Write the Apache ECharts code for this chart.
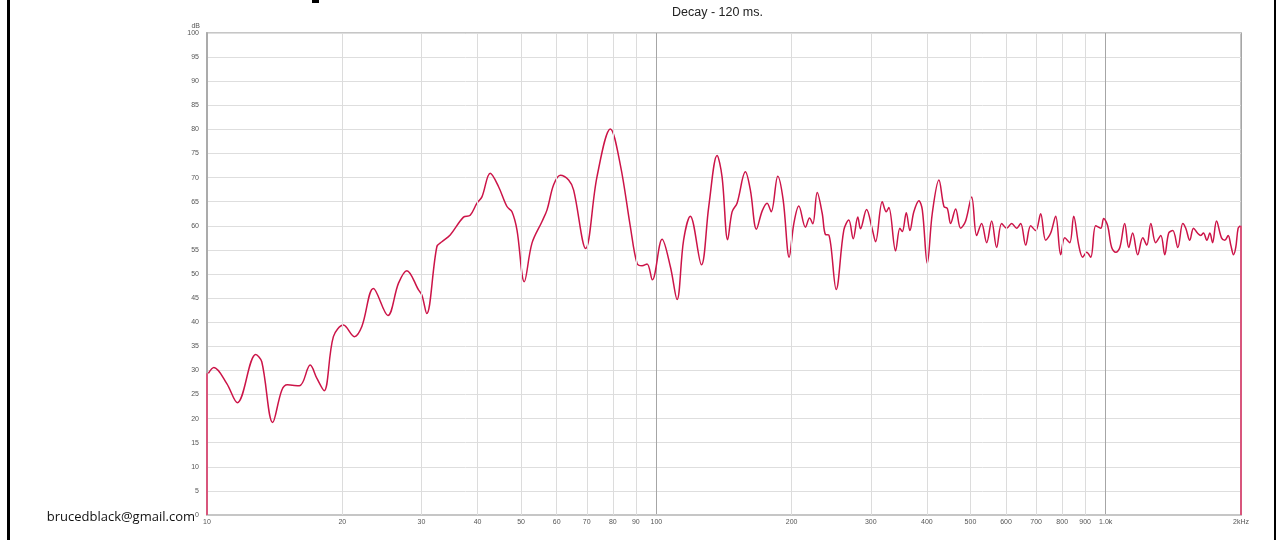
<!DOCTYPE html>
<html>
<head>
<meta charset="utf-8">
<title>Decay - 120 ms.</title>
<script src="https://cdn.jsdelivr.net/npm/echarts@6/dist/echarts.min.js"></script>
<style>
  html, body { margin: 0; padding: 0; background: #ffffff; }
  #chart { width: 1277px; height: 540px; }
</style>
</head>
<body>
<div id="chart"></div>
<script>
// Frequency response of the decay slice (Hz, dB)
const FREQ_HZ = [
  10.07, 10.36, 11.06, 11.68, 12.84, 13.24, 14.0, 14.67, 15.1, 16.06,
  16.97, 17.55, 18.22, 19.11, 20.12, 21.28, 22.11, 23.46, 25.27, 26.68,
  27.85, 29.56, 30.08, 30.83, 32.48, 33.32, 34.77, 37.22, 38.52, 39.88,
  40.91, 42.69, 44.55, 46.51, 47.72, 48.96, 50.82, 52.87, 55.66, 57.11,
  59.07, 61.13, 63.79, 65.45, 69.6, 73.78, 79.01, 83.16, 87.53, 90.57,
  92.92, 95.35, 97.97, 102.97, 107.45, 111.2, 115.0, 119.0, 126.0, 130.8,
  136.5, 140.0, 144.1, 147.4, 151.2, 157.8, 161.9, 167.0, 172.0, 176.4,
  180.1, 186.3, 191.5, 197.5, 202.3, 207.5, 214.7, 219.2, 222.9, 228.0,
  233.9, 237.9, 242.0, 251.3, 261.3, 268.1, 274.2, 280.7, 284.6, 293.6,
  302.3, 307.5, 318.2, 324.8, 329.1, 340.7, 348.3, 352.6, 359.9, 366.6,
  374.1, 383.9, 390.7, 400.8, 411.2, 425.4, 436.5, 444.1, 451.7, 463.4,
  475.5, 487.8, 503.1, 516.1, 529.4, 543.3, 557.4, 571.8, 586.7, 601.9,
  617.5, 633.6, 646.7, 663.5, 680.8, 698.4, 716.5, 735.2, 754.3, 773.8,
  794.0, 810.5, 831.4, 848.6, 870.7, 888.7, 907.1, 926.0, 950.0, 974.7,
  989.7, 1010, 1031, 1053, 1075, 1102, 1125, 1148, 1178, 1209,
  1234, 1260, 1292, 1326, 1353, 1381, 1410, 1447, 1484, 1507,
  1538, 1568, 1600, 1628, 1650, 1679, 1705, 1729, 1764, 1810,
  1841, 1873, 1898, 1925, 1947, 1971, 1993
];
const LEVEL_DB = [
  29.4, 30.6, 27.3, 23.3, 33.3, 31.8, 19.2, 25.9, 27.0, 26.8,
  31.1, 28.4, 25.8, 37.0, 39.4, 37.0, 39.1, 47.0, 41.4, 48.1,
  50.7, 46.7, 45.6, 41.8, 55.7, 56.7, 58.1, 61.8, 62.2, 64.7,
  66.0, 70.9, 68.1, 64.0, 62.9, 59.1, 48.4, 56.4, 60.9, 63.3,
  68.5, 70.5, 69.5, 67.4, 55.3, 70.2, 80.1, 72.6, 59.8, 52.2,
  51.7, 52.1, 48.8, 57.2, 51.5, 44.7, 57.1, 62.0, 51.9, 64.0,
  74.6, 70.2, 57.1, 62.9, 64.7, 71.2, 67.4, 59.3, 63.1, 64.7,
  62.9, 70.3, 65.4, 53.5, 60.5, 64.1, 59.7, 61.6, 60.4, 66.9,
  62.6, 58.2, 58.1, 46.8, 59.1, 61.2, 57.3, 61.8, 59.4, 63.4,
  59.3, 56.7, 65.0, 62.9, 63.8, 54.8, 59.5, 58.8, 62.7, 59.0,
  62.9, 65.2, 63.3, 52.2, 62.6, 69.5, 64.0, 63.6, 60.5, 63.5,
  59.5, 61.0, 66.0, 58.0, 60.5, 56.5, 61.0, 55.5, 60.5, 59.5,
  60.5, 59.5, 60.5, 56.0, 60.0, 59.0, 62.5, 57.0, 58.5, 62.0,
  54.0, 57.5, 56.5, 62.0, 56.0, 53.5, 54.5, 53.5, 60.0, 59.5,
  61.5, 60.0, 55.5, 54.5, 55.5, 60.5, 55.5, 58.5, 54.0, 57.5,
  56.0, 60.5, 56.5, 58.0, 54.0, 58.5, 59.0, 55.5, 60.5, 59.5,
  57.0, 59.5, 58.5, 58.0, 58.5, 57.0, 58.5, 56.5, 61.0, 57.5,
  57.0, 58.0, 56.0, 54.0, 55.5, 59.5, 60.0
];

// Axis range and tick labels
const FREQ_MIN = 10;
const FREQ_MAX = 2000;
const X_TICKS = [10, 20, 30, 40, 50, 60, 70, 80, 90, 100,
                 200, 300, 400, 500, 600, 700, 800, 900, 1000, 2000];
const X_TICK_TEXT = ['10', '20', '30', '40', '50', '60', '70', '80', '90', '100',
                     '200', '300', '400', '500', '600', '700', '800', '900', '1.0k', '2kHz'];
const MINOR_GRID_HZ = [20, 30, 40, 50, 60, 70, 80, 90, 200, 300, 400, 500, 600, 700, 800, 900];
const DB_MIN = 0;
const DB_MAX = 100;
const DB_STEP = 5;

const TITLE = 'Decay - 120 ms.';
const CREDIT = 'brucedblack@gmail.com';

const curve = FREQ_HZ.map((f, i) => [f, LEVEL_DB[i]]);
// closing drops to the floor at both ends of the band
const leftEdge = [[FREQ_MIN, DB_MIN], [FREQ_MIN, LEVEL_DB[0]]];
const rightEdge = [[FREQ_MAX, LEVEL_DB[LEVEL_DB.length - 1]], [FREQ_MAX, DB_MIN]];

const chart = echarts.init(document.getElementById('chart'), null, { renderer: 'canvas' });

const tickText = {};
X_TICKS.forEach((v, i) => { tickText[v] = X_TICK_TEXT[i]; });

chart.setOption({
  animation: false,
  backgroundColor: '#ffffff',
  grid: {
    left: 207, right: 36, top: 33, bottom: 25,
    show: true, borderColor: '#c6c6c6', borderWidth: 2, backgroundColor: '#ffffff'
  },
  xAxis: {
    type: 'log', logBase: 10, min: FREQ_MIN, max: FREQ_MAX,
    axisLine: { show: true, lineStyle: { color: '#c6c6c6', width: 2 } },
    axisTick: { show: false },
    axisLabel: {
      customValues: X_TICKS,
      showMinLabel: true, showMaxLabel: true,
      margin: 4, fontSize: 7, color: '#555555', fontFamily: 'Liberation Sans, Arial, sans-serif',
      formatter: (v) => {
        const key = Math.round(v);
        return tickText[key] !== undefined ? tickText[key] : '';
      }
    },
    splitLine: { show: true, lineStyle: { color: '#a6a6a6', width: 1 } },
    minorTick: { show: false },
    minorSplitLine: { show: false }
  },
  yAxis: {
    type: 'value', min: DB_MIN, max: DB_MAX, interval: DB_STEP,
    name: 'dB', nameLocation: 'end', nameGap: 1,
    nameTextStyle: { fontSize: 7, color: '#555555', align: 'right', padding: [0, 7, 0, 0],
                     fontFamily: 'Liberation Sans, Arial, sans-serif' },
    axisLine: { show: true, lineStyle: { color: '#ababab', width: 2 } },
    axisTick: { show: false },
    axisLabel: { fontSize: 7, color: '#555555', margin: 8,
                 fontFamily: 'Liberation Sans, Arial, sans-serif' },
    splitLine: { show: true, lineStyle: { color: '#dedede', width: 1 } }
  },
  series: [
    {
      // light vertical grid at 2..9 of each decade
      type: 'line', data: [], z: 1, silent: true,
      markLine: {
        silent: true, symbol: 'none', animation: false,
        label: { show: false },
        lineStyle: { color: '#dcdcdc', width: 1, type: 'solid' },
        emphasis: { disabled: true },
        data: MINOR_GRID_HZ.map((v) => ({ xAxis: v }))
      }
    },
    {
      type: 'line', data: leftEdge, z: 3, silent: true,
      showSymbol: false, symbol: 'none',
      lineStyle: { color: '#d8567c', width: 2 }
    },
    {
      type: 'line', data: rightEdge, z: 3, silent: true,
      showSymbol: false, symbol: 'none',
      lineStyle: { color: '#d8567c', width: 2 }
    },
    {
      type: 'line', data: curve, z: 4,
      showSymbol: false, symbol: 'none', smooth: 0.35,
      lineStyle: { color: '#cc1448', width: 1.5 }
    }
  ],
  graphic: [
    { type: 'text', left: 672, top: 6,
      style: { text: TITLE, font: '12.5px "Liberation Sans", Arial, sans-serif', fill: '#222222' } },
    { type: 'text', right: 1277 - 195, top: 511,
      style: { text: CREDIT, font: '13px "Open Sans", sans-serif', fill: '#111111' } },
    { type: 'rect', shape: { x: 7, y: 0, width: 3, height: 540 }, style: { fill: '#000000' } },
    { type: 'rect', shape: { x: 1274, y: 0, width: 2, height: 540 }, style: { fill: '#000000' } },
    { type: 'rect', shape: { x: 312, y: 0, width: 7, height: 3 }, style: { fill: '#000000' } }
  ]
});
</script>
</body>
</html>
